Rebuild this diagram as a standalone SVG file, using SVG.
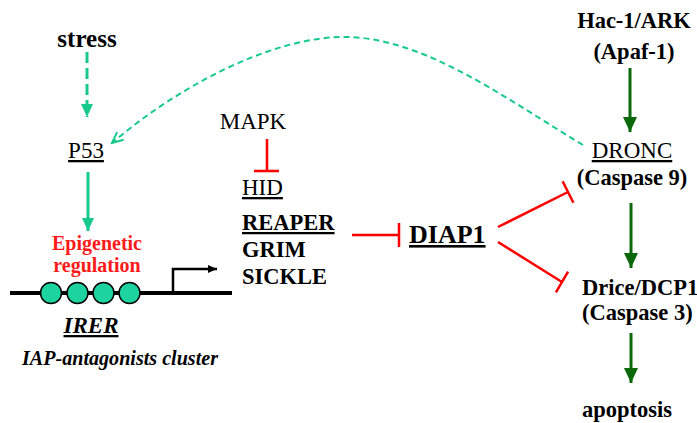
<svg xmlns="http://www.w3.org/2000/svg" width="697" height="423" viewBox="0 0 697 423">
<defs>
<style>
.teal{stroke:#17c98b;fill:none;stroke-width:3;}
.red{stroke:#ff0000;stroke-width:2.5;fill:none;}
.dg{stroke:#0b680b;stroke-width:3;fill:none;}
</style>
<marker id="tealHead" markerUnits="userSpaceOnUse" markerWidth="14" markerHeight="14" viewBox="0 0 14 14" refX="13" refY="7" orient="auto">
<path d="M0,1 L13,7 L0,13 Z" fill="#17c98b"/>
</marker>
<marker id="tealOpen" markerUnits="userSpaceOnUse" markerWidth="14" markerHeight="14" viewBox="0 0 14 14" refX="12" refY="7" orient="auto">
<path d="M1,2 L12,7 L1,12" fill="none" stroke="#17c98b" stroke-width="2"/>
</marker>
<marker id="greenHead" markerUnits="userSpaceOnUse" markerWidth="16" markerHeight="16" viewBox="0 0 16 16" refX="15" refY="8" orient="auto">
<path d="M0,1 L15,8 L0,15 Z" fill="#0b680b"/>
</marker>
<marker id="blackHead" markerUnits="userSpaceOnUse" markerWidth="10" markerHeight="10" viewBox="0 0 10 10" refX="9" refY="5" orient="auto">
<path d="M0,1 L9,5 L0,9 Z" fill="#000"/>
</marker>
</defs>
<rect width="697" height="423" fill="#fff"/>

<g id="connectors">
<line class="teal" x1="87" y1="52" x2="87" y2="117" stroke-dasharray="11 5" marker-end="url(#tealHead)"/>
<line class="teal" x1="88" y1="172" x2="88" y2="231" marker-end="url(#tealHead)"/>
<path class="teal" d="M583,145 C500,95 420,35 340,37 C270,39 180,85 112,143" style="stroke-width:2" stroke-dasharray="6 4" marker-end="url(#tealOpen)"/>
<path class="red" d="M267,139 V171 M254,171 H279"/>
<path class="red" d="M352,235 H399 M399,223 V247"/>
<path class="red" d="M498,227 L568,192 M562.6,181.3 L573.4,202.7"/>
<path class="red" d="M498,242 L562,282 M555.9,292.3 L568.1,271.7"/>
<line class="dg" x1="630" y1="68" x2="630" y2="132" marker-end="url(#greenHead)"/>
<line class="dg" x1="631" y1="203" x2="631" y2="268" marker-end="url(#greenHead)"/>
<line class="dg" x1="631" y1="333" x2="631" y2="383" marker-end="url(#greenHead)"/>
</g>

<g id="stress"><text style="font-family:'Liberation Serif',serif;font-weight:bold;text-anchor:middle;font-size:25px" x="87" y="47">stress</text></g>
<g id="p53"><text style="font-family:'Liberation Serif',serif;text-decoration:underline;text-anchor:middle;font-size:23px" x="86" y="158">P53</text></g>
<g id="epigenetic">
<text style="font-family:'Liberation Serif',serif;font-weight:bold;text-anchor:middle;font-size:20px;fill:#ff1a1a" x="97" y="250">Epigenetic</text>
<text style="font-family:'Liberation Serif',serif;font-weight:bold;text-anchor:middle;font-size:20px;fill:#ff1a1a" x="97" y="272">regulation</text>
</g>
<g id="irer-gene">
<line x1="10" y1="293" x2="232" y2="293" stroke="#000" stroke-width="4"/>
<g fill="#1dd3a0" stroke="#000" stroke-width="1.5">
<circle cx="51" cy="293" r="10.5"/>
<circle cx="77.5" cy="293" r="10.5"/>
<circle cx="103.5" cy="293" r="10.5"/>
<circle cx="129.5" cy="293" r="10.5"/>
</g>
<path d="M173,293 V269 H217" fill="none" stroke="#000" stroke-width="2.5" marker-end="url(#blackHead)"/>
</g>
<g id="irer"><text style="font-family:'Liberation Serif',serif;font-weight:bold;font-style:italic;text-decoration:underline;text-anchor:middle;font-size:23px" x="91" y="333">IRER</text></g>
<g id="iap-cluster"><text style="font-family:'Liberation Serif',serif;font-weight:bold;font-style:italic;font-size:20px" x="22" y="365" textLength="196" lengthAdjust="spacingAndGlyphs">IAP-antagonists cluster</text></g>
<g id="mapk"><text style="font-family:'Liberation Serif',serif;text-anchor:middle;font-size:23px" x="253" y="129">MAPK</text></g>
<g id="hid"><text style="font-family:'Liberation Serif',serif;text-decoration:underline;font-size:23px" x="242" y="195">HID</text></g>
<g id="reaper-grim-sickle">
<text style="font-family:'Liberation Serif',serif;font-weight:bold;text-decoration:underline;font-size:22.5px" x="242" y="230">REAPER</text>
<text style="font-family:'Liberation Serif',serif;font-weight:bold;font-size:22.5px" x="242" y="257">GRIM</text>
<text style="font-family:'Liberation Serif',serif;font-weight:bold;font-size:22.5px" x="242" y="284">SICKLE</text>
</g>
<g id="diap1"><text style="font-family:'Liberation Serif',serif;font-weight:bold;text-decoration:underline;font-size:26px" x="409" y="243">DIAP1</text></g>
<g id="hac1">
<text style="font-family:'Liberation Serif',serif;font-weight:bold;text-anchor:middle;font-size:22.5px" x="634" y="28">Hac-1/ARK</text>
<text style="font-family:'Liberation Serif',serif;font-weight:bold;text-anchor:middle;font-size:22.5px" x="634" y="59">(Apaf-1)</text>
</g>
<g id="dronc">
<text style="font-family:'Liberation Serif',serif;text-decoration:underline;text-anchor:middle;font-size:23px" x="632" y="158">DRONC</text>
<text style="font-family:'Liberation Serif',serif;font-weight:bold;text-anchor:middle;font-size:22.5px" x="632" y="185">(Caspase 9)</text>
</g>
<g id="drice">
<text style="font-family:'Liberation Serif',serif;font-weight:bold;font-size:22.5px" x="582" y="295">Drice/DCP1</text>
<text style="font-family:'Liberation Serif',serif;font-weight:bold;font-size:22.5px" x="582" y="320">(Caspase 3)</text>
</g>
<g id="apoptosis"><text style="font-family:'Liberation Serif',serif;font-weight:bold;font-size:22.5px" x="582" y="417">apoptosis</text></g>
</svg>
